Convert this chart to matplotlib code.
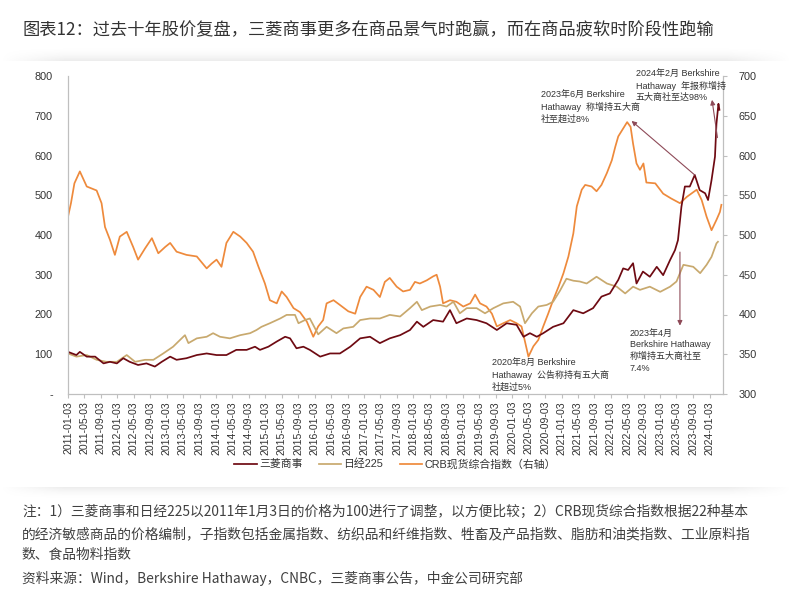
import numpy as np
import pandas as pd
import matplotlib
matplotlib.use('Agg')
import matplotlib.pyplot as plt
import matplotlib.dates as mdates

plt.rcParams['font.family'] = ['Liberation Sans', 'Noto Sans CJK SC']

######data (time in decimal years from 2011-01-03)######

mc_t = [2011.00, 2011.17, 2011.24, 2011.38, 2011.55, 2011.72, 2011.85, 2011.99, 2012.12, 2012.25,
        2012.42, 2012.59, 2012.76, 2012.90, 2013.07, 2013.20, 2013.40, 2013.61, 2013.81, 2014.01,
        2014.21, 2014.41, 2014.62, 2014.79, 2014.89, 2015.06, 2015.23, 2015.40, 2015.50, 2015.63,
        2015.77, 2015.90, 2016.11, 2016.31, 2016.51, 2016.72, 2016.92, 2017.12, 2017.32, 2017.52,
        2017.73, 2017.93, 2018.07, 2018.20, 2018.40, 2018.60, 2018.74, 2018.87, 2019.08, 2019.28,
        2019.48, 2019.69, 2019.89, 2020.09, 2020.23, 2020.36, 2020.50, 2020.63, 2020.83, 2021.04,
        2021.24, 2021.44, 2021.64, 2021.81, 2021.98, 2022.15, 2022.25, 2022.35, 2022.45, 2022.52,
        2022.65, 2022.79, 2022.93, 2023.06, 2023.20, 2023.30, 2023.36, 2023.43, 2023.50, 2023.60,
        2023.70, 2023.80, 2023.91, 2023.97, 2024.04, 2024.11, 2024.14, 2024.18, 2024.20]
mc_v = [106, 98, 106, 94, 94, 77, 81, 77, 90, 81,
        73, 77, 69, 81, 94, 86, 90, 98, 102, 98,
        98, 111, 111, 119, 111, 119, 132, 144, 140, 115,
        119, 111, 94, 102, 102, 119, 140, 144, 128, 140,
        148, 161, 182, 169, 186, 182, 211, 178, 190, 186,
        178, 161, 178, 174, 144, 153, 144, 153, 169, 178,
        211, 203, 216, 245, 253, 287, 316, 312, 329, 278,
        308, 295, 320, 299, 337, 362, 387, 471, 522, 522,
        551, 513, 505, 488, 538, 597, 680, 730, 715]

nk_t = [2011.00, 2011.17, 2011.38, 2011.58, 2011.78, 2011.99, 2012.19, 2012.36, 2012.56, 2012.73,
        2012.93, 2013.13, 2013.27, 2013.37, 2013.44, 2013.61, 2013.81, 2013.94, 2014.08, 2014.28,
        2014.49, 2014.69, 2014.82, 2014.92, 2015.09, 2015.30, 2015.43, 2015.60, 2015.67, 2015.80,
        2015.90, 2016.07, 2016.24, 2016.44, 2016.58, 2016.78, 2016.92, 2017.12, 2017.32, 2017.52,
        2017.73, 2017.93, 2018.07, 2018.17, 2018.34, 2018.54, 2018.67, 2018.81, 2018.94, 2019.08,
        2019.28, 2019.45, 2019.62, 2019.82, 2020.02, 2020.16, 2020.26, 2020.40, 2020.53, 2020.70,
        2020.83, 2020.97, 2021.10, 2021.24, 2021.37, 2021.51, 2021.71, 2021.92, 2022.12, 2022.29,
        2022.45, 2022.59, 2022.79, 2023.00, 2023.20, 2023.33, 2023.47, 2023.67, 2023.81, 2023.94,
        2024.04, 2024.14, 2024.17]
nk_v = [102, 94, 98, 86, 81, 81, 98, 81, 86, 86,
        102, 119, 136, 148, 128, 140, 144, 153, 144, 140,
        148, 153, 161, 169, 178, 190, 199, 199, 178, 186,
        190, 150, 169, 153, 165, 169, 186, 190, 190, 199,
        195, 216, 232, 211, 220, 224, 220, 232, 203, 216,
        216, 203, 216, 228, 232, 220, 178, 203, 220, 224,
        232, 260, 290, 285, 283, 278, 295, 278, 270, 253,
        270, 262, 270, 257, 270, 283, 325, 320, 304, 325,
        345, 379, 383]

crb_t = [2011.00, 2011.06, 2011.13, 2011.24, 2011.38, 2011.58, 2011.68, 2011.75, 2011.85, 2011.95,
         2012.05, 2012.19, 2012.32, 2012.42, 2012.56, 2012.70, 2012.83, 2012.97, 2013.07, 2013.20,
         2013.40, 2013.61, 2013.81, 2013.91, 2014.01, 2014.11, 2014.21, 2014.35, 2014.49, 2014.62,
         2014.75, 2014.86, 2014.99, 2015.09, 2015.23, 2015.33, 2015.43, 2015.57, 2015.70, 2015.84,
         2015.97, 2016.07, 2016.17, 2016.24, 2016.38, 2016.51, 2016.68, 2016.82, 2016.92, 2017.05,
         2017.19, 2017.32, 2017.42, 2017.52, 2017.66, 2017.79, 2017.93, 2018.03, 2018.13, 2018.27,
         2018.40, 2018.47, 2018.54, 2018.60, 2018.74, 2018.87, 2019.01, 2019.15, 2019.25, 2019.35,
         2019.48, 2019.59, 2019.69, 2019.82, 2019.96, 2020.09, 2020.19, 2020.33, 2020.43, 2020.53,
         2020.63, 2020.73, 2020.83, 2020.94, 2021.04, 2021.14, 2021.24, 2021.31, 2021.41, 2021.48,
         2021.61, 2021.71, 2021.81, 2021.92, 2022.02, 2022.09, 2022.15, 2022.33, 2022.40, 2022.45,
         2022.52, 2022.59, 2022.66, 2022.72, 2022.90, 2023.06, 2023.22, 2023.40, 2023.54, 2023.74,
         2023.84, 2023.94, 2024.04, 2024.14, 2024.21, 2024.24]
crb_v = [523, 540, 565, 580, 561, 556, 540, 510, 494, 475,
         498, 504, 485, 469, 483, 496, 477, 485, 490, 479,
         475, 473, 458, 464, 469, 460, 490, 504, 498, 490,
         479, 460, 439, 418, 414, 429, 422, 408, 403, 391,
         372, 385, 393, 414, 418, 412, 404, 401, 422, 435,
         431, 422, 441, 446, 435, 429, 431, 441, 439, 443,
         448, 450, 435, 414, 418, 416, 410, 414, 425, 414,
         410, 401, 385, 389, 393, 389, 385, 347, 360, 368,
         385, 401, 418, 435, 452, 473, 502, 536, 557, 563,
         561, 555, 563, 578, 594, 611, 624, 642, 636, 615,
         590, 582, 590, 566, 565, 552, 546, 540, 548, 557,
         544, 523, 506, 519, 529, 538]

left_ticks = [0, 100, 200, 300, 400, 500, 600, 700, 800]
left_labels = ['-', '100', '200', '300', '400', '500', '600', '700', '800']
right_ticks = [300, 350, 400, 450, 500, 550, 600, 650, 700]
x_ticks = ['%d-%02d-03' % (y, m) for y in range(2011, 2025) for m in (1, 5, 9)][:-2]


def to_date(t):
    return pd.Timestamp('2011-01-03') + pd.to_timedelta((np.asarray(t) - 2011) * 365.25, unit='D')


def yr(t):
    return mdates.date2num(to_date(t))


#######figure#################################################################
W, H = 792, 602
fig = plt.figure(figsize=(W / 100, H / 100), dpi=100)


def px(x, y):
    # pixel position (from top-left) to figure fraction
    return x / W, 1 - y / H


# soft card shadow
bg = fig.add_axes([0, 0, 1, 1], zorder=-10)
bg.axis('off')
bg.set_xlim(0, W)
bg.set_ylim(H, 0)
xs = np.linspace(0, 1, 400)
hfade = np.clip(np.minimum(xs / 0.08, (1 - xs) / 0.08), 0, 1)
rows = np.linspace(0, 1, 30) ** 2
img = np.zeros((30, 400, 4))
img[..., :3] = 0.55
img[..., 3] = 0.16 * rows[:, None] * hfade[None, :]
bg.imshow(img, extent=(0, W, 61, 46), aspect='auto', interpolation='bilinear')
bg.imshow(img[::-1], extent=(0, W, 500, 487), aspect='auto', interpolation='bilinear')

fig.text(*px(22, 30), '图表12：过去十年股价复盘，三菱商事更多在商品景气时跑赢，而在商品疲软时阶段性跑输',
         fontsize=12.4, color='#333333', va='center', ha='left',
         family=['Noto Sans CJK SC'])

ax = fig.add_axes([68 / W, 1 - 394 / H, 655 / W, 318 / H])
ax2 = ax.twinx()

c_mc = '#6E0A12'
c_nk = '#C8A96E'
c_crb = '#EE8A3C'

l3, = ax2.plot(to_date(crb_t), crb_v, color=c_crb, lw=1.25, label='CRB现货综合指数（右轴）')
l2, = ax.plot(to_date(nk_t), nk_v, color=c_nk, lw=1.25, label='日经225')
l1, = ax.plot(to_date(mc_t), mc_v, color=c_mc, lw=1.25, label='三菱商事')
ax.set_zorder(ax2.get_zorder() + 1)
ax.patch.set_visible(False)

ax.set_ylim(0, 800)
ax2.set_ylim(300, 700)
ax.set_xlim(yr(2011.0), yr(2011 + 655 / 49.35))

ax.set_yticks(left_ticks)
ax.set_yticklabels(left_labels)
ax2.set_yticks(right_ticks)
ax.set_xticks([mdates.date2num(pd.Timestamp(d)) for d in x_ticks])
ax.set_xticklabels(x_ticks, rotation=90)

gray = '#BFBFBF'
for a in (ax, ax2):
    a.spines['top'].set_visible(False)
    for s in ('left', 'right', 'bottom'):
        a.spines[s].set_color(gray)
        a.spines[s].set_linewidth(0.8)
ax.tick_params(axis='y', length=0, pad=11, labelsize=7.8, labelcolor='#333333')
ax.tick_params(axis='x', length=3, color=gray, pad=2, labelsize=7.6, labelcolor='#333333')
ax2.tick_params(axis='y', length=3, color=gray, pad=8, labelsize=7.8, labelcolor='#333333')

# annotations
ann_kw = dict(fontsize=6.5, color='#333333', linespacing=1.35, va='top', ha='left')
arrow_kw = dict(arrowstyle='-|>', color='#8E4A58', lw=0.8, mutation_scale=7, shrinkA=0, shrinkB=0)

fig.text(*px(636, 69), '2024年2月 Berkshire\nHathaway  年报称增持\n五大商社至达98%', **ann_kw)
fig.text(*px(541, 90), '2023年6月 Berkshire\nHathaway  称增持五大商\n社至超过8%', **ann_kw)
fig.text(*px(630, 329), '2023年4月\nBerkshire Hathaway\n称增持五大商社至\n7.4%', **ann_kw)
fig.text(*px(492, 358), '2020年8月 Berkshire\nHathaway  公告称持有五大商\n社超过5%', **ann_kw)

ax.annotate('', xy=(yr(2024.05), 740), xytext=(yr(2024.16), 645), arrowprops=arrow_kw,
            annotation_clip=False)
ax.annotate('', xy=(yr(2022.42), 687), xytext=(yr(2023.70), 551), arrowprops=arrow_kw)
ax.annotate('', xy=(yr(2023.40), 172), xytext=(yr(2023.40), 357), arrowprops=arrow_kw)

# legend
fig.legend(handles=[l1, l2, l3], loc='center', bbox_to_anchor=px(395, 464), ncol=3,
           frameon=False, fontsize=7.8, handlelength=2.1, columnspacing=1.5, handletextpad=0.2,
           labelcolor='#333333')

notes = ['注：1）三菱商事和日经225以2011年1月3日的价格为100进行了调整，以方便比较；2）CRB现货综合指数根据22种基本',
         '的经济敏感商品的价格编制，子指数包括金属指数、纺织品和纤维指数、牲畜及产品指数、脂肪和油类指数、工业原料指',
         '数、食品物料指数',
         '资料来源：Wind，Berkshire Hathaway，CNBC，三菱商事公告，中金公司研究部']
for i, y in enumerate([512, 534, 555, 578]):
    fig.text(*px(22, y), notes[i], fontsize=9.9, color='#404040', va='center', ha='left',
             family=['Noto Sans CJK SC'])

fig.savefig('out.png', dpi=100)
